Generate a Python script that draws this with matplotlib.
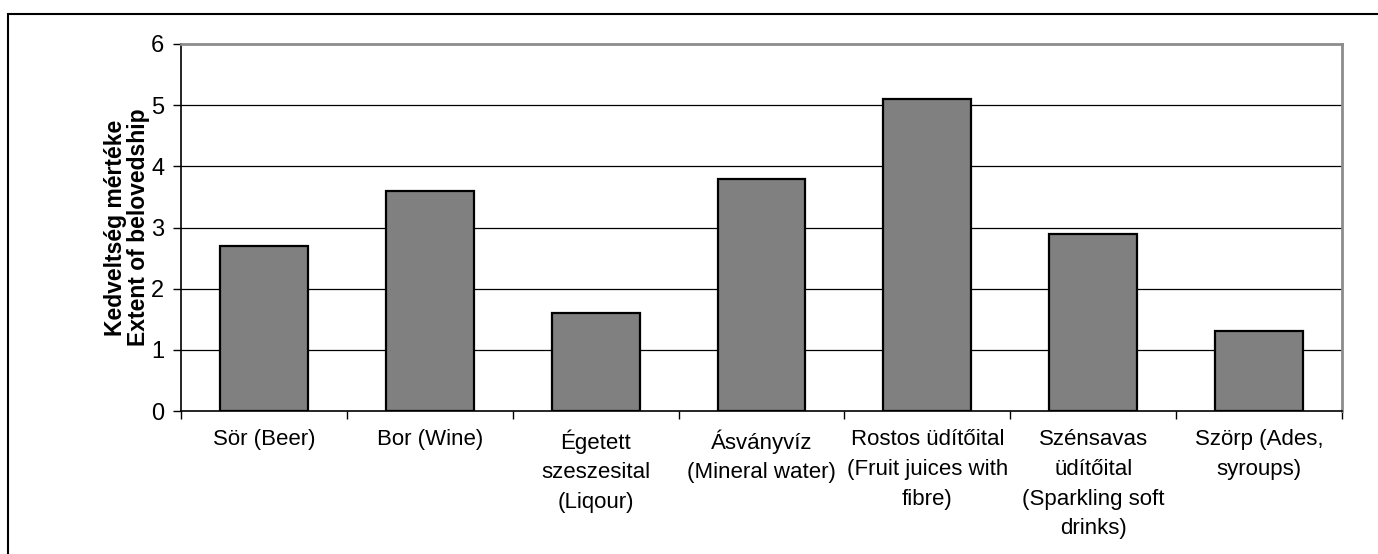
import matplotlib
matplotlib.use("Agg")
import matplotlib.pyplot as plt
from matplotlib.patches import Rectangle
from matplotlib.ticker import FixedLocator, NullFormatter
import numpy as np

plt.rcParams['font.family'] = ['Liberation Sans', 'DejaVu Sans']

categories = [
    "Sör (Beer)",
    "Bor (Wine)",
    "Égetett\nszeszesital\n(Liqour)",
    "Ásványvíz\n(Mineral water)",
    "Rostos üdítőital\n(Fruit juices with\nfibre)",
    "Szénsavas\nüdítőital\n(Sparkling soft\ndrinks)",
    "Szörp (Ades,\nsyroups)",
]
values = [2.7, 3.6, 1.6, 3.8, 5.1, 2.9, 1.3]
y_ticks = [0, 1, 2, 3, 4, 5, 6]
y_label = "Kedveltség mértéke\nExtent of belovedship"

W, H = 1378, 554
fig = plt.figure(figsize=(W / 100, H / 100), dpi=100)
ax = fig.add_axes([181 / W, 1 - 411 / H, (1342 - 181) / W, (411 - 44) / H])

x = np.arange(len(categories))
ax.bar(x, values, width=0.53, color="#808080", edgecolor="black",
       linewidth=1.6, zorder=3)

ax.set_xlim(-0.5, len(categories) - 0.5)
ax.set_ylim(0, 6)
ax.set_yticks(y_ticks)
ax.set_yticklabels([str(t) for t in y_ticks])

# category labels centred under bars, tick marks on category boundaries
ax.set_xticks(x)
ax.set_xticklabels(categories, linespacing=1.55, va="top")
ax.tick_params(axis="x", which="major", length=0, pad=13)
ax.xaxis.set_minor_locator(FixedLocator(np.arange(-0.5, len(categories), 1.0)))
ax.xaxis.set_minor_formatter(NullFormatter())
ax.tick_params(axis="x", which="minor", length=6, width=1, color="black",
               direction="out")
ax.tick_params(axis="y", length=6, width=1, color="black", direction="out",
               pad=6)
ax.tick_params(axis="x", labelsize=16)
ax.tick_params(axis="y", labelsize=17)

for yv in y_ticks[1:-1]:
    ax.axhline(yv, color="black", linewidth=0.9, zorder=1)

for side in ("left", "bottom"):
    ax.spines[side].set_color("black")
    ax.spines[side].set_linewidth(1.2)
for side in ("top", "right"):
    ax.spines[side].set_color("#8c8c8c")
    ax.spines[side].set_linewidth(2)

ax.set_ylabel(y_label, fontsize=16.5, fontweight="bold", linespacing=0.98,
              labelpad=1)

# frame around the chart area
fig.patches.append(Rectangle((7.5 / W, -0.2), 1.5, (H - 14.5) / H + 0.2,
                             transform=fig.transFigure, fill=False,
                             edgecolor="black", linewidth=1.5))

fig.savefig("out.png", dpi=100)
